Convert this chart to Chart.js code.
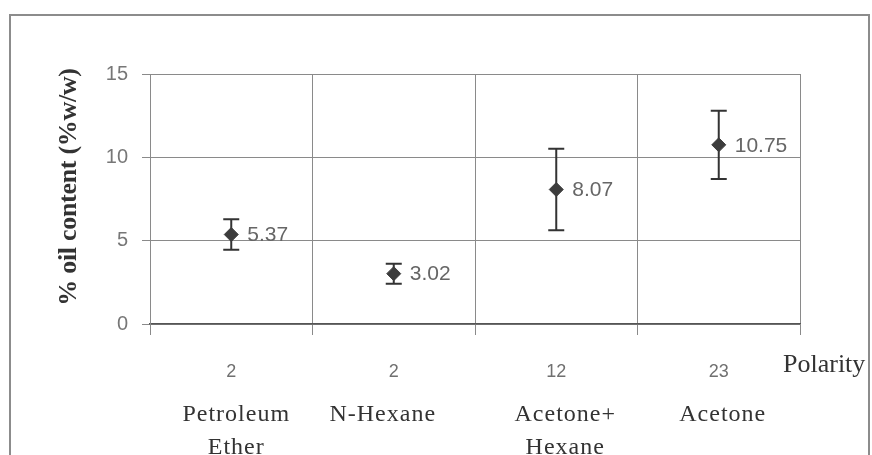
<!DOCTYPE html>
<html>
<head>
<meta charset="utf-8">
<script src="https://cdn.jsdelivr.net/npm/chart.js@4.4.0/dist/chart.umd.min.js"></script>
<style>
html, body { margin: 0; padding: 0; background: #fff; }
</style>
</head>
<body>
<canvas id="oilChart" width="872" height="455"></canvas>
<script>
// chart data
var polarity = ['2', '2', '12', '23'];
var solvents = [['Petroleum', 'Ether'], ['N-Hexane'], ['Acetone+', 'Hexane'], ['Acetone']];
var oilContent = [5.37, 3.02, 8.07, 10.75];
var oilError = [0.92, 0.6, 2.45, 2.05];
var yTicks = [0, 5, 10, 15];

// small nudges for the solvent names under the axis
var nameShift = [5, -11, 9, 4];

var serif = '"Liberation Serif", "Times New Roman", serif';
var sans = '"Liberation Sans", Arial, sans-serif';

var extras = {
    id: 'extras',
    beforeDraw: function (chart) {
        var ctx = chart.ctx;
        ctx.save();
        ctx.strokeStyle = '#8c8c8c';
        ctx.lineWidth = 2;
        ctx.beginPath();
        ctx.moveTo(10, 455);
        ctx.lineTo(10, 15);
        ctx.lineTo(869, 15);
        ctx.lineTo(869, 455);
        ctx.stroke();
        ctx.restore();
    },
    beforeDatasetsDraw: function (chart) {
        // error bars
        var ctx = chart.ctx;
        var x = chart.scales.x, y = chart.scales.y;
        ctx.save();
        ctx.strokeStyle = '#333';
        ctx.lineWidth = 2;
        oilContent.forEach(function (v, i) {
            var px = x.getPixelForValue(i);
            var top = y.getPixelForValue(v + oilError[i]);
            var bot = y.getPixelForValue(v - oilError[i]);
            ctx.beginPath();
            ctx.moveTo(px, top); ctx.lineTo(px, bot);
            ctx.moveTo(px - 8, top); ctx.lineTo(px + 8, top);
            ctx.moveTo(px - 8, bot); ctx.lineTo(px + 8, bot);
            ctx.stroke();
        });
        ctx.restore();
    },
    afterDatasetsDraw: function (chart) {
        // value labels
        var ctx = chart.ctx;
        var x = chart.scales.x, y = chart.scales.y;
        ctx.save();
        ctx.font = '21px ' + sans;
        ctx.fillStyle = '#666';
        ctx.textAlign = 'left';
        ctx.textBaseline = 'middle';
        oilContent.forEach(function (v, i) {
            ctx.fillText(v.toFixed(2), x.getPixelForValue(i) + 16, y.getPixelForValue(v) + 1);
        });
        ctx.restore();
    },
    afterDraw: function (chart) {
        var ctx = chart.ctx;
        var x = chart.scales.x, area = chart.chartArea;
        ctx.save();
        ctx.fillStyle = '#333';
        ctx.textBaseline = 'middle';

        // solvent names
        ctx.font = '24px ' + serif;
        ctx.letterSpacing = '1px';
        ctx.textAlign = 'center';
        solvents.forEach(function (lines, i) {
            lines.forEach(function (t, j) {
                ctx.fillText(t, x.getPixelForValue(i) + nameShift[i], area.bottom + 91 + j * 33);
            });
        });

        // axis name at right
        ctx.font = '26px ' + serif;
        ctx.letterSpacing = '0px';
        ctx.textAlign = 'left';
        ctx.fillText('Polarity', area.right - 17, area.bottom + 41);

        // y title
        ctx.font = 'bold 26px ' + serif;
        ctx.letterSpacing = '-0.3px';
        ctx.textAlign = 'center';
        ctx.translate(69, (area.top + area.bottom) / 2 - 12);
        ctx.rotate(-Math.PI / 2);
        ctx.fillText('% oil content (%w/w)', 0, 0);
        ctx.restore();
    }
};

var oilChart = new Chart(document.getElementById('oilChart'), {
    type: 'line',
    data: {
        labels: polarity,
        datasets: [{
            label: 'Oil content',
            data: oilContent,
            showLine: false,
            pointStyle: 'rectRot',
            pointRadius: 7,
            pointBorderWidth: 1,
            pointBackgroundColor: '#3c3c3c',
            pointBorderColor: '#3c3c3c'
        }]
    },
    options: {
        responsive: false,
        animation: false,
        devicePixelRatio: 1,
        layout: {
            padding: { left: 0, top: 74, right: 72, bottom: 0 }
        },
        plugins: {
            legend: { display: false },
            tooltip: { enabled: false }
        },
        scales: {
            x: {
                type: 'category',
                offset: true,
                grid: { offset: true, color: '#8a8a8a', lineWidth: 1, tickLength: 11 },
                border: { color: '#555', width: 1.5 },
                ticks: { color: '#707070', font: { family: sans, size: 18 }, padding: 26 },
                afterFit: function (s) { s.height = 131; }
            },
            y: {
                min: 0,
                max: 15,
                afterBuildTicks: function (s) {
                    s.ticks = yTicks.map(function (v) { return { value: v }; });
                },
                grid: { color: '#8a8a8a', lineWidth: 1, tickLength: 8 },
                border: { color: '#8a8a8a', width: 1 },
                ticks: { color: '#777', font: { family: sans, size: 20 }, padding: 14 },
                afterFit: function (s) { s.width = 150; }
            }
        }
    },
    plugins: [extras]
});
</script>
</body>
</html>
